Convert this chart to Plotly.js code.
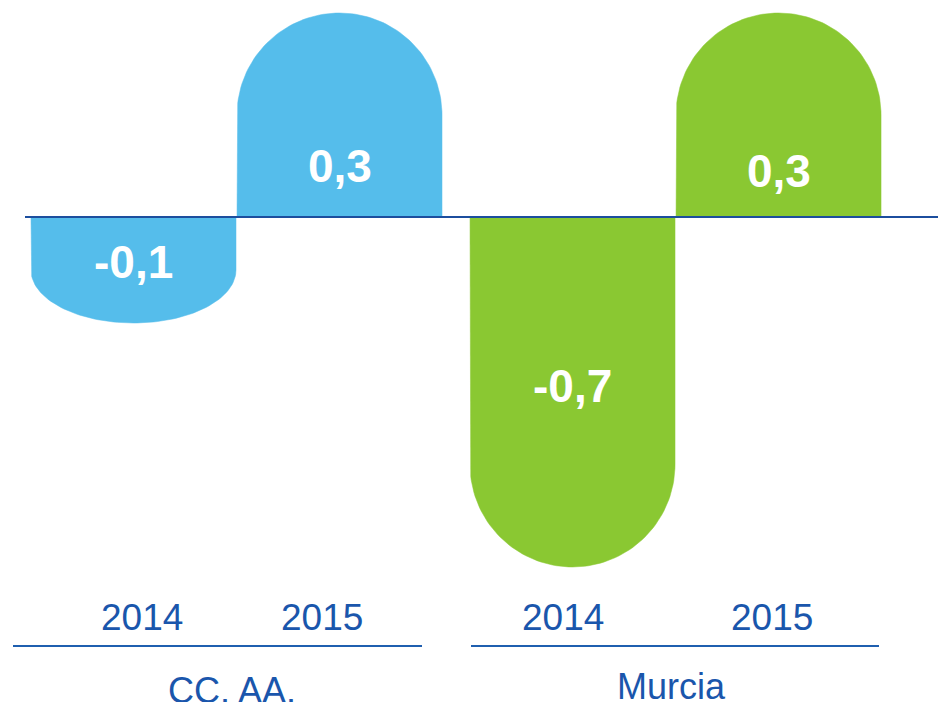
<!DOCTYPE html>
<html><head><meta charset="utf-8">
<script src="https://cdn.plot.ly/plotly-3.0.1.min.js"></script>
<style>html,body{margin:0;padding:0;background:#fff;overflow:hidden;} #chart{width:938px;height:702px;}</style>
</head><body><div id="chart"></div>
<script>
// ---- data ----
const groups = ["CC. AA.", "Murcia"];
const years = ["2014", "2015", "2014", "2015"];
const barGroup = [0, 0, 1, 1];
const values = [-0.1, 0.3, -0.7, 0.3];
const valueLabels = ["-0,1", "0,3", "-0,7", "0,3"];
// drawn length of each rounded bar, as it appears in the picture
const barLength = [-0.212, 0.408, -0.700, 0.408];

// ---- styles / layout ----
const W = 938, H = 702;
const groupColors = ["#55BDEB", "#8AC832"];
const textBlue = "#1A56AC";
const groupPitch = 2.131, barWidth = 0.995;
const xRange = [-0.648, 3.905];
const yRange = [-0.97, 0.434];
const pxPerX = W / (xRange[1] - xRange[0]);
const pxPerY = H / (yRange[1] - yRange[0]);
const labelShiftPx = [-45, 51, -169, 46];   // value label centre, px above zero line
const yearShiftPx = [8, -18, -10, -7];
const font = "Liberation Sans, Arial, sans-serif";

const inGroupIdx = [];
const cnt = {};
barGroup.forEach(g => { cnt[g] = (cnt[g] || 0); inGroupIdx.push(cnt[g]); cnt[g]++; });
const pos = barGroup.map((g, i) => g * groupPitch + inGroupIdx[i]);

const traces = [];
barLength.forEach((L, i) => {
  const c = pos[i], hw = barWidth / 2, s = Math.sign(L);
  const rY = hw * pxPerX / pxPerY;
  const cap = Math.min(rY, Math.abs(L) / 2);
  const base = L - s * cap;
  const xs = [c - hw], ys = [0];
  const N = 80;
  for (let k = 0; k <= N; k++) {
    const th = Math.PI * (1 - k / N);
    xs.push(c + hw * Math.cos(th));
    ys.push(base + s * cap * Math.sin(th));
  }
  xs.push(c + hw); ys.push(0);
  xs.push(c - hw); ys.push(0);
  const col = groupColors[barGroup[i]];
  traces.push({
    type: "scatter", mode: "lines", x: xs, y: ys, fill: "toself",
    fillcolor: col, line: {width: 0.5, color: col}, hoverinfo: "skip", showlegend: false
  });
});

const annotations = [];
valueLabels.forEach((t, i) => {
  annotations.push({
    x: pos[i], y: 0, xref: "x", yref: "y", text: t, showarrow: false,
    xanchor: "center", yanchor: "middle", yshift: labelShiftPx[i],
    font: {family: font, size: 46, color: "#FFFFFF", weight: "bold"}
  });
});
years.forEach((t, i) => {
  annotations.push({
    x: pos[i], y: 1 - 617 / H, xref: "x", yref: "paper", text: t, showarrow: false,
    xanchor: "center", yanchor: "middle", xshift: yearShiftPx[i],
    font: {family: font, size: 37, color: textBlue}
  });
});
const groupLabelPx = [[232, 690], [671, 686]];
groups.forEach((g, gi) => {
  annotations.push({
    x: groupLabelPx[gi][0] / W, y: 1 - groupLabelPx[gi][1] / H, xref: "paper", yref: "paper",
    text: g, showarrow: false, xanchor: "center", yanchor: "middle",
    font: {family: font, size: 36, color: textBlue}
  });
});

const sepLines = [[13, 422], [471, 879]];
const shapes = [{
  type: "line", xref: "paper", yref: "y", x0: 25 / W, x1: 1, y0: 0, y1: 0,
  line: {color: "#1C4E9E", width: 2}, layer: "above"
}];
sepLines.forEach(([a, b]) => shapes.push({
  type: "line", xref: "paper", yref: "paper", x0: a / W, x1: b / W,
  y0: 1 - 646 / H, y1: 1 - 646 / H, line: {color: "#1F5FAF", width: 2}
}));

const layout = {
  width: W, height: H, margin: {l: 0, r: 0, t: 0, b: 0, pad: 0},
  paper_bgcolor: "#FFFFFF", plot_bgcolor: "#FFFFFF",
  xaxis: {range: xRange, visible: false, fixedrange: true},
  yaxis: {range: yRange, visible: false, fixedrange: true},
  showlegend: false, annotations: annotations, shapes: shapes
};
Plotly.newPlot("chart", traces, layout, {displayModeBar: false, staticPlot: true});
</script>
</body></html>
